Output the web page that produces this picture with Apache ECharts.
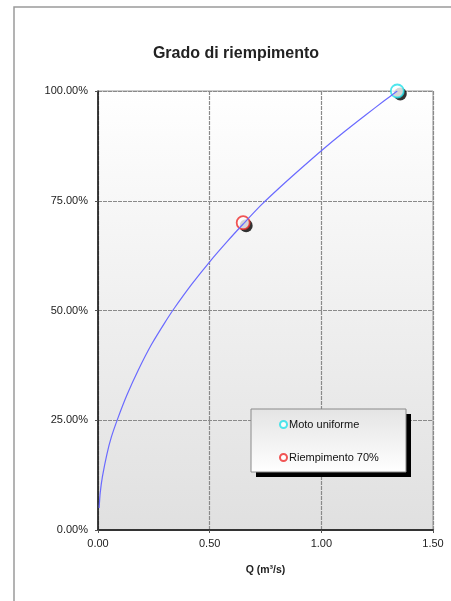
<!DOCTYPE html>
<html>
<head>
<meta charset="utf-8">
<script src="https://cdn.jsdelivr.net/npm/echarts@6/dist/echarts.min.js"></script>
<style>
  html, body { margin: 0; padding: 0; background: #fff; }
  #chart { width: 451px; height: 601px; }
</style>
</head>
<body>
<div id="chart"></div>
<script>
// Filling degree curve: flow Q (m³/s) against filling percentage
const curveQ   = [0.005, 0.01, 0.02, 0.04, 0.06, 0.09, 0.13, 0.18, 0.24, 0.30, 0.34, 0.42, 0.50, 0.58, 0.65, 0.73, 0.82, 0.91, 1.00, 1.10, 1.20, 1.28, 1.34];
const curvePct = [5.0,   8.5,  12.2, 17.3, 21.2, 25.6, 30.8, 36.4, 42.3, 47.3, 50.4, 56.0, 61.1, 65.8, 69.7, 74.0, 78.3, 82.4, 86.4, 90.6, 94.6, 97.7, 100.0];

// Characteristic points
const uniformQ = [1.34];
const uniformPct = [100];
const fill70Q = [0.65];
const fill70Pct = [70];

const xTicks = [0, 0.5, 1.0, 1.5];
const yTicks = [0, 25, 50, 75, 100];

const titleText = 'Grado di riempimento';
const xName = 'Q (m³/s)';
const nameUniform = 'Moto uniforme';
const name70 = 'Riempimento 70%';

const zip = (a, b) => a.map((v, i) => [v, b[i]]);

const chart = echarts.init(document.getElementById('chart'), null, { renderer: 'canvas' });

const font = 'Liberation Sans, Arial, sans-serif';
const cyan = '#22e0e8';
const red = '#ee2a2a';

const option = {
  animation: false,
  backgroundColor: '#fff',
  textStyle: { fontFamily: font },
  title: {
    text: titleText,
    left: 231,
    top: 41,
    textAlign: 'center',
    textStyle: { fontFamily: font, fontSize: 16, fontWeight: 'bold', color: '#222' }
  },
  graphic: [
    {
      // outer chart frame
      type: 'polyline',
      shape: { points: [[14, 601], [14, 7], [451, 7]] },
      style: { stroke: '#9a9a9a', lineWidth: 1.5, fill: null },
      z: 0
    },
    {
      // legend box shadow
      type: 'rect',
      shape: { x: 256, y: 414, width: 155, height: 63 },
      style: { fill: '#000' },
      z: 3
    },
    {
      // legend box
      type: 'rect',
      shape: { x: 251, y: 409, width: 155, height: 63 },
      style: {
        fill: {
          type: 'linear', x: 0, y: 0, x2: 0, y2: 1,
          colorStops: [{ offset: 0, color: '#e4e4e4' }, { offset: 1, color: '#ffffff' }]
        },
        stroke: '#8a8a8a',
        lineWidth: 1
      },
      z: 3
    }
  ],
  grid: {
    left: 98, right: 18, top: 91, bottom: 71,
    show: true,
    borderWidth: 1,
    borderColor: '#9a9a9a',
    backgroundColor: {
      type: 'linear', x: 0, y: 0, x2: 0, y2: 1,
      colorStops: [{ offset: 0, color: '#ffffff' }, { offset: 1, color: '#e0e0e0' }]
    }
  },
  xAxis: {
    type: 'value',
    min: xTicks[0], max: xTicks[xTicks.length - 1], interval: 0.5,
    name: xName,
    nameLocation: 'middle',
    nameGap: 35,
    nameTextStyle: { fontFamily: font, fontSize: 10.5, fontWeight: 'bold', color: '#222' },
    axisLine: { show: true, onZero: false, lineStyle: { color: '#333', width: 2 } },
    axisTick: { show: true, length: 3, lineStyle: { color: '#555' } },
    axisLabel: {
      margin: 8, fontSize: 11, color: '#222', fontFamily: font,
      formatter: v => v.toFixed(2)
    },
    splitLine: { show: true, lineStyle: { color: '#8a8a8a', width: 1.2, type: [4, 1] } }
  },
  yAxis: {
    type: 'value',
    min: yTicks[0], max: yTicks[yTicks.length - 1], interval: 25,
    axisLine: { show: true, onZero: false, lineStyle: { color: '#111', width: 1.5 } },
    axisTick: { show: true, length: 3, lineStyle: { color: '#555' } },
    axisLabel: {
      margin: 10, fontSize: 11, color: '#222', fontFamily: font,
      formatter: v => v.toFixed(2) + '%'
    },
    splitLine: { show: true, lineStyle: { color: '#8a8a8a', width: 1.2, type: [4, 1] } }
  },
  legend: {
    orient: 'vertical',
    left: 279,
    top: 419,
    padding: 0,
    itemGap: 22,
    itemWidth: 7,
    itemHeight: 7,
    z: 5,
    textStyle: { fontFamily: font, fontSize: 11, color: '#111', padding: [0, 0, 0, -3] },
    data: [
      { name: nameUniform, icon: 'emptyCircle', itemStyle: { color: cyan, borderColor: cyan, borderWidth: 1.3 } },
      { name: name70, icon: 'emptyCircle', itemStyle: { color: red, borderColor: red, borderWidth: 1.3 } }
    ]
  },
  series: [
    {
      name: 'ombra',
      type: 'scatter',
      data: zip(uniformQ, uniformPct).concat(zip(fill70Q, fill70Pct)),
      symbol: 'circle',
      symbolSize: 13,
      symbolOffset: [3, 3],
      itemStyle: { color: '#000' },
      silent: true,
      z: 2
    },
    {
      name: nameUniform,
      type: 'scatter',
      data: zip(uniformQ, uniformPct),
      symbol: 'circle',
      symbolSize: 13,
      itemStyle: { color: '#fff', borderColor: cyan, borderWidth: 1.8 },
      z: 3
    },
    {
      name: name70,
      type: 'scatter',
      data: zip(fill70Q, fill70Pct),
      symbol: 'circle',
      symbolSize: 13,
      itemStyle: { color: '#fff', borderColor: red, borderWidth: 1.8 },
      z: 3
    },
    {
      name: 'curva',
      type: 'line',
      data: zip(curveQ, curvePct),
      smooth: 0.25,
      showSymbol: false,
      lineStyle: { color: '#6a6aff', width: 1.2 },
      z: 4
    }
  ]
};

chart.setOption(option);
</script>
</body>
</html>
